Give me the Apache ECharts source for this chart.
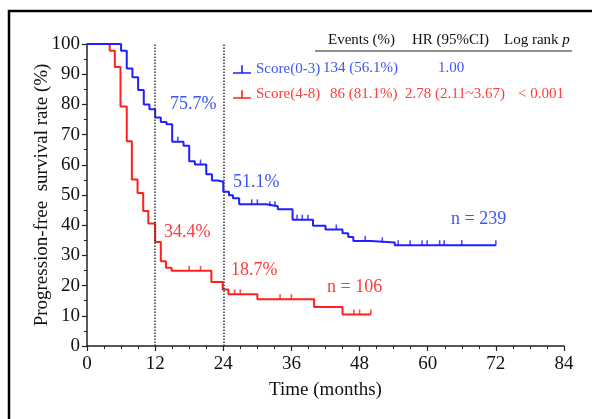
<!DOCTYPE html>
<html>
<head>
<meta charset="utf-8">
<script src="https://cdn.jsdelivr.net/npm/echarts@6/dist/echarts.min.js"></script>
<style>
  html, body { margin: 0; padding: 0; background: #fff; }
  #chart { width: 592px; height: 419px; }
</style>
</head>
<body>
<div id="chart"></div>
<script>
// Kaplan-Meier steps: time (months) and survival (%) from that time on
const blueTimes = [0, 6, 7, 8, 9, 10, 11, 12, 13, 14, 15, 17, 18, 19, 21, 22, 23, 24, 25, 25.7, 26.8, 31.6, 33.6, 36.2, 39.8, 42, 45, 46, 46.9, 50, 54.2, 72];
const blueSurv = [100, 97.8, 91.9, 89, 84.8, 80, 78.4, 75.7, 74.2, 73.4, 67.6, 66.3, 61.2, 60.1, 56.9, 54.8, 54.4, 51.1, 49.9, 48.9, 46.9, 46.3, 45.3, 41.8, 39.8, 38.6, 37.3, 36.1, 34.8, 34.3, 33.4, 33.4];
const blueCensored = [16, 20, 29, 30, 32.2, 33.1, 37, 37.9, 38.9, 43.9, 49, 52, 54.8, 56.9, 59, 59.9, 62.1, 62.9, 66, 72];

const redTimes = [0, 4, 4.9, 5.9, 7, 7.9, 8.9, 9.9, 10.8, 12, 13, 13.9, 14.9, 21.9, 23.9, 24.9, 30, 40, 45, 50];
const redSurv = [100, 97.8, 92.4, 79.3, 67.8, 55.1, 50.7, 44.7, 40.6, 34.4, 28.1, 25.9, 24.9, 21.2, 18.7, 17.1, 15.5, 12.9, 10.4, 10.4];
const redCensored = [18, 20, 26, 27, 34, 36, 47, 48, 50];

const landmarks = [12, 24];
const seriesNames = ['Score(0-3)', 'Score(4-8)'];

const blueLine = '#1f1fff';
const blueText = '#3d55f2';
const redLine = '#ff1f1f';
const redText = '#ff3b3b';
const ink = '#111';
const font = 'Liberation Serif';

// survival level in effect at time t (step function)
function levelAt(times, surv, t) {
  let v = surv[0];
  for (let i = 0; i < times.length; i++) {
    if (times[i] <= t) v = surv[i];
  }
  return v;
}

function pairs(times, surv) {
  return times.map((t, i) => [t, surv[i]]);
}

const tickMark = 'path://M0,0 L1,0 L1,1 L0,1 Z';

const chart = echarts.init(document.getElementById('chart'));

const option = {
  animation: false,
  textStyle: { fontFamily: font },
  grid: { left: 87, right: 28, top: 44, bottom: 73 },
  xAxis: {
    type: 'value',
    min: 0,
    max: 84,
    interval: 12,
    name: 'Time (months)',
    nameLocation: 'middle',
    nameGap: 35,
    nameMoveOverlap: false,
    nameTextStyle: { fontSize: 19, color: ink, fontFamily: font },
    axisLine: { lineStyle: { color: '#222', width: 1.5 } },
    axisTick: { length: 5, lineStyle: { color: '#222', width: 1.2 } },
    minorTick: { show: true, splitNumber: 4, length: 3, lineStyle: { color: '#222', width: 1 } },
    axisLabel: { fontSize: 19, color: ink, margin: 9, fontFamily: font },
    splitLine: { show: false },
  },
  yAxis: {
    type: 'value',
    min: 0,
    max: 100,
    interval: 10,
    name: 'Progression-free  survival rate (%)',
    nameLocation: 'middle',
    nameGap: 35,
    nameMoveOverlap: false,
    nameTextStyle: { fontSize: 19, color: ink, fontFamily: font },
    axisLine: { show: true, lineStyle: { color: '#222', width: 1.5 } },
    axisTick: { show: true, length: 5, lineStyle: { color: '#222', width: 1.2 } },
    minorTick: { show: true, splitNumber: 2, length: 3, lineStyle: { color: '#222', width: 1 } },
    axisLabel: { fontSize: 19, color: ink, margin: 7, fontFamily: font },
    splitLine: { show: false },
  },
  legend: {
    orient: 'vertical',
    left: 228,
    top: 57,
    itemWidth: 18,
    itemHeight: 9,
    itemGap: 10,
    icon: 'path://M0,8 L18,8 L18,9.6 L0,9.6 Z M8.2,1 L9.8,1 L9.8,8 L8.2,8 Z',
    textStyle: { fontSize: 15, fontFamily: font },
    data: [
      { name: seriesNames[0], textStyle: { color: blueText } },
      { name: seriesNames[1], textStyle: { color: redText } },
    ],
  },
  series: [
    {
      name: seriesNames[1],
      type: 'line',
      step: 'end',
      color: redLine,
      showSymbol: false,
      lineStyle: { width: 2, color: redLine },
      data: pairs(redTimes, redSurv),
      z: 3,
    },
    {
      name: 'red-censored',
      type: 'scatter',
      symbol: tickMark,
      symbolSize: [1.6, 5],
      symbolOffset: [0, -2.5],
      itemStyle: { color: redLine },
      data: redCensored.map(t => [t, levelAt(redTimes, redSurv, t)]),
      z: 3,
    },
    {
      name: seriesNames[0],
      type: 'line',
      step: 'end',
      color: blueLine,
      showSymbol: false,
      lineStyle: { width: 2, color: blueLine },
      data: pairs(blueTimes, blueSurv),
      z: 4,
      markLine: {
        silent: true,
        symbol: 'none',
        label: { show: false },
        lineStyle: { color: '#333', type: 'dotted', width: 1.5 },
        data: landmarks.map(t => ({ xAxis: t })),
      },
    },
    {
      name: 'blue-censored',
      type: 'scatter',
      symbol: tickMark,
      symbolSize: [1.6, 5],
      symbolOffset: [0, -2.5],
      itemStyle: { color: blueLine },
      data: blueCensored.map(t => [t, levelAt(blueTimes, blueSurv, t)]),
      z: 4,
    },
  ],
  graphic: [
    {
      type: 'rect',
      shape: { x: 9, y: 11, width: 640, height: 460 },
      style: { fill: 'none', stroke: '#000', lineWidth: 2.5 },
      silent: true,
    },
    // table header
    { type: 'text', left: 328, top: 33, style: { text: 'Events (%)', fill: ink, font: '15px "Liberation Serif"' } },
    { type: 'text', left: 412, top: 33, style: { text: 'HR (95%CI)', fill: ink, font: '15px "Liberation Serif"' } },
    {
      type: 'text', left: 504, top: 33,
      style: {
        text: '{a|Log rank }{b|p}',
        rich: {
          a: { fill: ink, font: '15px "Liberation Serif"' },
          b: { fill: ink, font: 'italic 15px "Liberation Serif"' },
        },
      },
    },
    {
      type: 'line',
      shape: { x1: 315, y1: 51, x2: 572, y2: 51 },
      style: { stroke: '#222', lineWidth: 1.2 },
    },
    // table rows
    { type: 'text', left: 323, top: 61, style: { text: '134 (56.1%)', fill: blueText, font: '15px "Liberation Serif"' } },
    { type: 'text', left: 438, top: 61, style: { text: '1.00', fill: blueText, font: '15px "Liberation Serif"' } },
    { type: 'text', left: 330, top: 87, style: { text: '86 (81.1%)', fill: redText, font: '15px "Liberation Serif"' } },
    { type: 'text', left: 405, top: 87, style: { text: '2.78 (2.11~3.67)', fill: redText, font: '15px "Liberation Serif"' } },
    { type: 'text', left: 518, top: 87, style: { text: '< 0.001', fill: redText, font: '15px "Liberation Serif"' } },
    // landmark annotations
    { type: 'text', left: 170, top: 95, style: { text: '75.7%', fill: blueText, font: '18px "Liberation Serif"' } },
    { type: 'text', left: 233, top: 173, style: { text: '51.1%', fill: blueText, font: '18px "Liberation Serif"' } },
    { type: 'text', left: 164, top: 223, style: { text: '34.4%', fill: redText, font: '18px "Liberation Serif"' } },
    { type: 'text', left: 231, top: 261, style: { text: '18.7%', fill: redText, font: '18px "Liberation Serif"' } },
    { type: 'text', left: 451, top: 210, style: { text: 'n = 239', fill: blueText, font: '18px "Liberation Serif"' } },
    { type: 'text', left: 327, top: 278, style: { text: 'n = 106', fill: redText, font: '18px "Liberation Serif"' } },
  ],
};

chart.setOption(option);
</script>
</body>
</html>
